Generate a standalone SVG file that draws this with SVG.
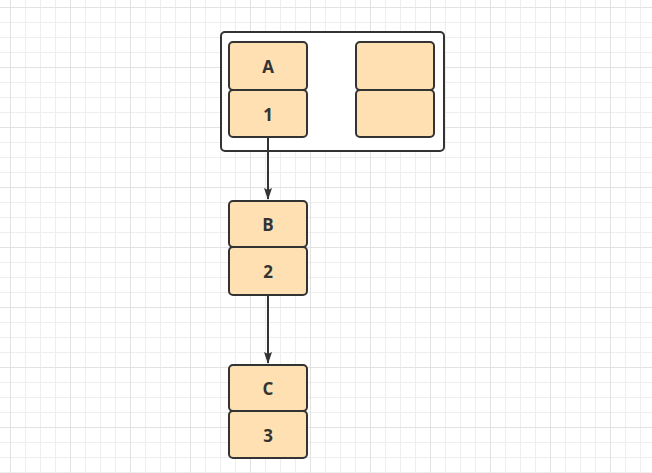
<svg xmlns="http://www.w3.org/2000/svg" width="652" height="473" viewBox="0 0 652 473">
<defs>
<pattern id="minor" width="15" height="15" patternUnits="userSpaceOnUse" x="10" y="7">
<path d="M0 0.5H15M0.5 0V15" fill="none" stroke="#eeeeee" stroke-width="1"/>
</pattern>
<pattern id="major" width="60" height="60" patternUnits="userSpaceOnUse" x="10" y="7">
<path d="M0 0.5H60M0.5 0V60" fill="none" stroke="#e2e2e2" stroke-width="1"/>
</pattern>
<marker id="arr" markerWidth="12" markerHeight="8" refX="11" refY="4" orient="auto" markerUnits="userSpaceOnUse" viewBox="0 0 12 8">
<path d="M0 0L12 4L0 8L2 4Z" fill="#333"/>
</marker>
<style>
.cell{fill:#ffe0b3;stroke:#333;stroke-width:2}
.t{font-family:"Open Sans","Liberation Sans",sans-serif;font-weight:bold;font-size:17px;fill:#333;text-anchor:middle;dominant-baseline:central}
.edge{stroke:#333;stroke-width:2;fill:none}
</style>
</defs>
<rect width="652" height="473" fill="#fff"/>
<rect width="652" height="473" fill="url(#minor)"/>
<rect width="652" height="473" fill="url(#major)"/>
<g id="container">
<rect x="221" y="32" width="223" height="119" rx="4" fill="#fff" stroke="#333" stroke-width="2"/>
</g>
<g id="nodeA">
<rect class="cell" x="229" y="42" width="78" height="48" rx="4"/>
<text class="t" x="268" y="66">A</text>
</g>
<g id="node1">
<rect class="cell" x="229" y="90" width="78" height="47" rx="4"/>
<text class="t" x="268" y="114">1</text>
</g>
<g id="emptyTop">
<rect class="cell" x="356" y="42" width="78" height="48" rx="4"/>
</g>
<g id="emptyBottom">
<rect class="cell" x="356" y="90" width="78" height="47" rx="4"/>
</g>
<g id="nodeB">
<rect class="cell" x="229" y="201" width="78" height="46" rx="4"/>
<text class="t" x="268" y="224">B</text>
</g>
<g id="node2">
<rect class="cell" x="229" y="247" width="78" height="48" rx="4"/>
<text class="t" x="268" y="271">2</text>
</g>
<g id="nodeC">
<rect class="cell" x="229" y="365" width="78" height="46" rx="4"/>
<text class="t" x="268" y="388">C</text>
</g>
<g id="node3">
<rect class="cell" x="229" y="411" width="78" height="47" rx="4"/>
<text class="t" x="268" y="435">3</text>
</g>
<g id="connectors">
<path class="edge" d="M268 137V199" marker-end="url(#arr)"/>
<path class="edge" d="M268 295V363" marker-end="url(#arr)"/>
</g>
</svg>
